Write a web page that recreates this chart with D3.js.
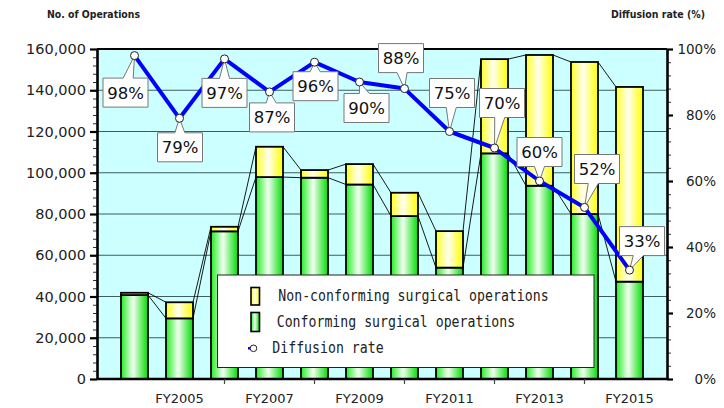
<!DOCTYPE html>
<html><head><meta charset="utf-8">
<script src="https://cdn.jsdelivr.net/npm/d3@7"></script>
<style>
html,body{margin:0;padding:0;background:#fff;}
svg{display:block;}
</style></head>
<body>
<svg id="c" width="724" height="408"></svg>
<script>
const years = ["FY2004","FY2005","FY2006","FY2007","FY2008","FY2009","FY2010","FY2011","FY2012","FY2013","FY2014","FY2015"];
const conforming = [40700, 29400, 71600, 97900, 97600, 94300, 79000, 54000, 109400, 93700, 80000, 47200];
const nonConforming = [1100, 7800, 2200, 14700, 3700, 9900, 11300, 17700, 45700, 63400, 73700, 94400];
const diffusionRate = [98, 79, 97, 87, 96, 90, 88, 75, 70, 60, 52, 33];
const leftTicks = [0, 20000, 40000, 60000, 80000, 100000, 120000, 140000, 160000];
const rightTicks = [0, 20, 40, 60, 80, 100];
const xLabelYears = ["FY2005","FY2007","FY2009","FY2011","FY2013","FY2015"];
const xTickYears = ["FY2006","FY2008","FY2010","FY2012","FY2014"];
const legendLabels = ["Non-conforming surgical operations","Conforming surgical operations","Diffusion rate"];
// layout-only: callout box centre offsets from each point (px)
const labelOffsets = [[-9,37],[0.5,29],[0,34],[2.5,25.5],[1,24],[7,26],[-3.5,-30.5],[2.5,-38.5],[7.5,-45],[0,-29],[12.5,-38.4],[12.5,-29]];

const svg = d3.select("#c");
const L = 97, R = 667, T = 49, B = 379;

const x = d3.scaleBand().domain(years).range([112, 652]).paddingInner(0.4).paddingOuter(0.2);
const y = d3.scaleLinear().domain([0, 160000]).range([B, T]);
const yR = d3.scaleLinear().domain([0, 100]).range([B, T]);

const defs = svg.append("defs");
function grad(id, edgeL, mid, edgeR) {
  const g = defs.append("linearGradient").attr("id", id).attr("x1", 0).attr("x2", 1).attr("y1", 0).attr("y2", 0);
  g.append("stop").attr("offset", "0%").attr("stop-color", edgeL);
  g.append("stop").attr("offset", "45%").attr("stop-color", mid);
  g.append("stop").attr("offset", "100%").attr("stop-color", edgeR);
}
grad("gGreen", "#22EE22", "#F2FFF2", "#00DD00");
grad("gYellow", "#FFFF22", "#FFFFF2", "#FFFF00");

// plot background
svg.append("rect").attr("x", L).attr("y", T).attr("width", R - L).attr("height", B - T).attr("fill", "#CCFFFF");

// gridlines
svg.append("g").selectAll("line").data(leftTicks.filter(d => d > 0 && d < 160000)).join("line")
  .attr("x1", L).attr("x2", R).attr("y1", d => y(d)).attr("y2", d => y(d))
  .attr("stroke", "#3E5E5E").attr("stroke-width", 1);

// bars
const stack = years.map((yr, i) => ({ yr, c: conforming[i], n: nonConforming[i], t: conforming[i] + nonConforming[i] }));
const bars = svg.append("g");
bars.selectAll("rect.c").data(stack).join("rect").attr("class", "c")
  .attr("x", d => x(d.yr)).attr("width", x.bandwidth())
  .attr("y", d => y(d.c)).attr("height", d => B - y(d.c))
  .attr("fill", "url(#gGreen)").attr("stroke", "#000").attr("stroke-width", 1.8);
bars.selectAll("rect.n").data(stack).join("rect").attr("class", "n")
  .attr("x", d => x(d.yr)).attr("width", x.bandwidth())
  .attr("y", d => y(d.t)).attr("height", d => y(d.c) - y(d.t))
  .attr("fill", "url(#gYellow)").attr("stroke", "#000").attr("stroke-width", 1.8);

// series lines
const sl = svg.append("g").attr("stroke", "#000").attr("stroke-width", 0.9);
for (let i = 0; i < stack.length - 1; i++) {
  const a = stack[i], b = stack[i + 1];
  const xa = x(a.yr) + x.bandwidth(), xb = x(b.yr);
  sl.append("line").attr("x1", xa).attr("x2", xb).attr("y1", y(a.c)).attr("y2", y(b.c));
  sl.append("line").attr("x1", xa).attr("x2", xb).attr("y1", y(a.t)).attr("y2", y(b.t));
}

// plot border top
svg.append("line").attr("x1", L).attr("x2", R).attr("y1", T).attr("y2", T).attr("stroke", "#000").attr("stroke-width", 2.2);

// axes
function styleAxis(g, w) {
  g.select(".domain").attr("stroke", "#000").attr("stroke-width", w);
  g.selectAll(".tick line").attr("stroke", "#000");
}
// left minor
const gLm = svg.append("g").attr("transform", `translate(${L},0)`)
  .call(d3.axisLeft(y).tickValues(d3.range(0, 160001, 4000)).tickFormat("").tickSize(4).tickSizeOuter(0));
gLm.select(".domain").remove();
gLm.selectAll(".tick line").attr("stroke", "#333").attr("stroke-width", 1);
const gL = svg.append("g").attr("transform", `translate(${L},0)`)
  .call(d3.axisLeft(y).tickValues(leftTicks).tickFormat(d3.format(",")).tickSize(7).tickPadding(4).tickSizeOuter(0));
styleAxis(gL, 2.6);
gL.selectAll(".tick line").attr("stroke-width", 2.2);
gL.selectAll("text").attr("font-family", "DejaVu Sans, Verdana, sans-serif").attr("font-size", 14.5).attr("fill", "#222");

// right minor
const gRm = svg.append("g").attr("transform", `translate(${R},0)`)
  .call(d3.axisRight(yR).tickValues(d3.range(0, 101, 4)).tickFormat("").tickSize(4).tickSizeOuter(0));
gRm.select(".domain").remove();
gRm.selectAll(".tick line").attr("stroke", "#333").attr("stroke-width", 1);
const gR = svg.append("g").attr("transform", `translate(${R},0)`)
  .call(d3.axisRight(yR).tickValues(rightTicks).tickFormat(d => d + "%").tickSize(6).tickPadding(4).tickSizeOuter(0));
styleAxis(gR, 2.6);
gR.selectAll(".tick line").attr("stroke-width", 2.2);
gR.selectAll("text").attr("font-family", "DejaVu Sans, Verdana, sans-serif").attr("font-size", 13.5).attr("fill", "#222")
  .attr("text-anchor", "end").attr("x", 49);

// bottom axis
const gB = svg.append("g").attr("transform", `translate(0,${B})`)
  .call(d3.axisBottom(x).tickValues(xTickYears).tickFormat("").tickSize(5).tickSizeOuter(0));
gB.select(".domain").attr("d", `M${L},0H${R}`).attr("stroke", "#000").attr("stroke-width", 2.6);
gB.selectAll(".tick line").attr("stroke", "#444").attr("stroke-width", 1.2);
const gBl = svg.append("g").attr("transform", `translate(0,${B})`)
  .call(d3.axisBottom(x).tickValues(xLabelYears).tickSize(0).tickPadding(15));
gBl.select(".domain").remove();
gBl.selectAll("text").attr("font-family", "DejaVu Sans, Verdana, sans-serif").attr("font-size", 13).attr("fill", "#222");

// legend
const lg = svg.append("g");
lg.append("rect").attr("x", 217.5).attr("y", 275).attr("width", 376.5).attr("height", 92.5)
  .attr("fill", "#fff").attr("stroke", "#222").attr("stroke-width", 1);
lg.append("rect").attr("x", 251).attr("y", 287.5).attr("width", 8.5).attr("height", 17.5)
  .attr("fill", "url(#gYellow)").attr("stroke", "#000").attr("stroke-width", 1.6);
lg.append("rect").attr("x", 251).attr("y", 312.5).attr("width", 8.5).attr("height", 19)
  .attr("fill", "url(#gGreen)").attr("stroke", "#000").attr("stroke-width", 1.6);
lg.append("line").attr("x1", 248).attr("x2", 253).attr("y1", 348.3).attr("y2", 348.3).attr("stroke", "#0000FF").attr("stroke-width", 2.5);
lg.append("circle").attr("cx", 253.5).attr("cy", 348.3).attr("r", 3.3).attr("fill", "#fff").attr("stroke", "#222").attr("stroke-width", 1);
const legPos = [[278.3, 300.7], [276.7, 326.7], [272.3, 353.3]];
legendLabels.forEach((t, i) => {
  lg.append("text").attr("x", legPos[i][0]).attr("y", legPos[i][1]).text(t)
    .attr("font-family", "DejaVu Sans Mono, monospace").attr("font-size", 15.5).attr("fill", "#222")
    .attr("textLength", t.length * 7.95).attr("lengthAdjust", "spacingAndGlyphs");
});

// diffusion line
const pts = years.map((yr, i) => [x(yr) + x.bandwidth() / 2, yR(diffusionRate[i])]);
svg.append("path").attr("d", d3.line()(pts)).attr("fill", "none").attr("stroke", "#0000FF").attr("stroke-width", 4)
  .attr("stroke-linejoin", "round");

// callouts
const cg = svg.append("g");
pts.forEach((p, i) => {
  const [px, py] = p;
  const cx = px + labelOffsets[i][0], cy = py + labelOffsets[i][1];
  const w = 45, h = 29;
  const x0 = cx - w / 2, x1 = cx + w / 2, y0 = cy - h / 2, y1 = cy + h / 2;
  let bc = cx + (px - cx) * 0.3;
  bc = Math.max(x0 + 7, Math.min(x1 - 7, bc));
  const bL = bc - 5, bR = bc + 5;
  let d;
  if (py < y0) d = `M${x0},${y0}L${bL},${y0}L${px},${py}L${bR},${y0}L${x1},${y0}L${x1},${y1}L${x0},${y1}Z`;
  else d = `M${x0},${y0}L${x1},${y0}L${x1},${y1}L${bR},${y1}L${px},${py}L${bL},${y1}L${x0},${y1}Z`;
  cg.append("path").attr("d", d).attr("fill", "#fff").attr("stroke", "#777").attr("stroke-width", 1);
  cg.append("text").attr("x", cx).attr("y", cy).attr("dy", "0.36em").attr("text-anchor", "middle")
    .attr("font-family", "DejaVu Sans, Verdana, sans-serif").attr("font-size", 16.5).attr("fill", "#111")
    .text(diffusionRate[i] + "%");
});
// markers
svg.append("g").selectAll("circle").data(pts).join("circle")
  .attr("cx", d => d[0]).attr("cy", d => d[1]).attr("r", 4)
  .attr("fill", "#fff").attr("stroke", "#222").attr("stroke-width", 1);

// axis titles
svg.append("text").attr("x", 47).attr("y", 17.5).text("No. of Operations")
  .attr("font-family", "DejaVu Sans, sans-serif").attr("font-weight", "bold").attr("font-size", 11).attr("fill", "#222")
  .attr("textLength", 93).attr("lengthAdjust", "spacingAndGlyphs");
svg.append("text").attr("x", 611).attr("y", 17.5).text("Diffusion rate (%)")
  .attr("font-family", "DejaVu Sans, sans-serif").attr("font-weight", "bold").attr("font-size", 11).attr("fill", "#222")
  .attr("textLength", 94).attr("lengthAdjust", "spacingAndGlyphs");
</script>
</body></html>
